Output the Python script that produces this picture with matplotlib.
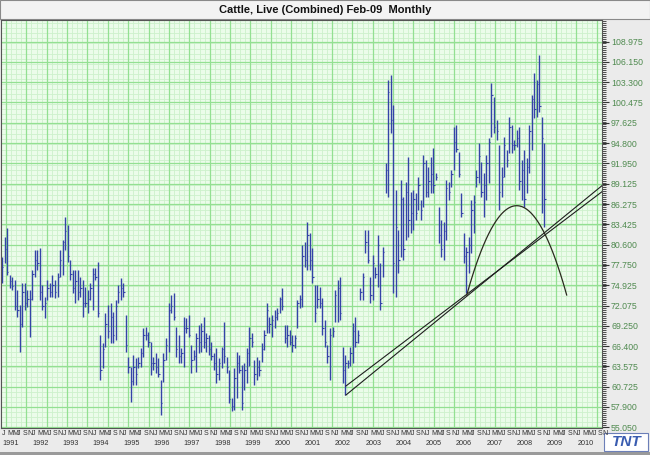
import numpy as np
import matplotlib
matplotlib.use("Agg")
import matplotlib.pyplot as plt
from matplotlib.patches import Rectangle
from matplotlib.transforms import blended_transform_factory

plt.rcParams['font.family'] = ['Liberation Sans', 'DejaVu Sans']

title = "Cattle, Live (Combined) Feb-09  Monthly"
years = list(range(1991, 2011))
month_letters = ["J", "M", "M", "J", "S", "N"]
month_slots = [0, 2, 4, 6, 8, 10]

# monthly bars from Jan 1991 (high, low, close)
highs = [
    78.9, 81.7, 82.9, 76.4, 76.1, 75.7, 74.3, 72.2, 75.2, 75.2, 74.3, 74.3,
    77.1, 79.9, 79.9, 80.1, 75.0, 73.3, 75.7, 75.2, 76.4, 75.7, 76.6, 79.9,
    81.3, 84.5, 83.4, 78.5, 77.1, 77.1, 77.1, 76.1, 75.7, 74.7, 74.3, 75.2,
    77.3, 77.3, 78.2, 68.0, 66.8, 71.0, 72.2, 72.4, 71.2, 72.9, 75.0, 75.9,
    75.2, 70.8, 64.9, 63.5, 65.2, 64.7, 64.9, 66.1, 68.9, 69.1, 68.4, 67.0,
    64.9, 65.4, 64.7, 61.7, 65.4, 67.5, 72.4, 73.6, 73.8, 69.1, 68.0, 66.1,
    70.5, 70.3, 70.8, 66.6, 65.9, 68.2,
    69.4, 69.6, 70.5, 68.2, 68.0, 67.0, 65.4, 66.1, 64.7, 66.3, 69.8, 64.9,
    63.1, 59.1, 63.3, 65.6, 65.2, 63.8, 64.0, 66.1, 69.1, 68.2, 64.5, 64.9,
    64.5, 66.8, 68.7, 72.4, 70.5, 70.8, 71.5, 71.7, 73.3, 74.5, 69.4, 69.4,
    68.7, 68.0, 68.0, 72.9, 73.6, 80.6, 81.0, 83.8, 82.2, 80.1, 75.0, 75.0,
    74.7, 73.1, 70.1, 66.6, 68.9, 69.1, 74.3, 75.7, 76.1, 66.3, 65.2, 64.5,
    66.3, 69.6, 70.5, 68.7, 74.5, 76.6, 82.7, 82.7, 76.1, 79.2, 77.5, 82.0,
    78.0, 80.3,
    92.0, 103.6, 104.3, 100.1, 88.2, 82.6, 89.6, 87.3, 89.4, 92.9, 88.0, 88.2,
    87.8, 90.1, 86.8, 93.1, 92.4, 91.5, 92.9, 94.1, 90.6, 85.9, 84.0, 83.8,
    89.6, 89.4, 91.0, 97.1, 97.3, 93.6, 87.8, 82.2, 80.3, 81.7, 86.8, 87.5,
    91.0, 94.8, 92.2, 90.6, 93.1, 95.5, 103.2, 101.3, 98.0, 94.5, 91.5, 95.7,
    93.8, 98.5, 97.3, 95.2, 96.6, 97.1, 92.4, 93.8, 92.7, 97.3, 101.5, 104.6,
    103.6, 107.1, 98.5, 94.8,
]
lows = [
    75.2, 78.0, 76.4, 74.5, 74.3, 71.5, 70.5, 65.6, 69.1, 71.5, 71.9, 67.7,
    72.9, 76.1, 77.1, 72.9, 71.5, 70.3, 72.9, 73.3, 73.3, 73.1, 73.3, 76.1,
    76.4, 79.9, 78.2, 75.7, 73.8, 72.4, 72.9, 73.3, 70.5, 71.9, 71.0, 72.9,
    71.5, 75.7, 70.5, 61.7, 63.3, 66.3, 67.5, 66.8, 66.8, 67.3, 72.4, 72.9,
    73.3, 65.6, 62.6, 58.6, 61.0, 61.0, 63.3, 63.5, 64.9, 67.3, 66.3, 62.4,
    63.1, 62.6, 62.1, 56.8, 61.4, 64.5, 65.6, 71.0, 70.1, 64.9, 64.0, 64.0,
    63.5, 68.2, 67.7, 62.6, 64.5, 62.8,
    65.4, 65.6, 66.1, 65.6, 65.2, 64.5, 63.1, 61.2, 61.7, 63.3, 64.0, 62.6,
    58.4, 57.3, 57.5, 59.1, 62.6, 57.5, 60.3, 61.2, 63.6, 66.3, 61.0, 61.7,
    62.2, 64.2, 65.9, 68.2, 68.2, 67.7, 68.9, 70.1, 71.0, 71.5, 66.8, 66.3,
    66.6, 65.6, 66.1, 68.9, 71.7, 71.9, 77.5, 77.1, 77.1, 75.2, 69.8, 71.7,
    71.7, 68.0, 66.3, 64.0, 61.7, 67.7, 69.8, 69.8, 70.1, 61.2, 59.6, 63.3,
    63.6, 64.0, 66.3, 66.8, 72.9, 72.9, 79.4, 78.0, 72.4, 72.9, 75.9, 74.7,
    71.5, 76.1,
    87.8, 87.3, 96.2, 73.8, 73.3, 76.6, 78.9, 78.4, 81.2, 81.7, 82.2, 82.6,
    84.0, 85.4, 84.0, 85.9, 87.3, 87.3, 87.8, 87.8, 89.6, 80.8, 78.9, 78.4,
    81.2, 86.8, 88.7, 91.0, 93.6, 90.1, 84.5, 78.0, 73.8, 76.6, 79.4, 82.2,
    88.7, 89.2, 87.3, 84.5, 86.8, 89.2, 95.7, 96.2, 95.2, 85.4, 87.3, 90.1,
    91.5, 93.4, 93.4, 93.8, 94.3, 88.2, 86.8, 85.9, 87.8, 90.6, 93.8, 98.3,
    98.5, 99.2, 85.0, 83.1,
]
closes = [
    77.5, 80.0, 76.8, 75.5, 74.8, 72.0, 71.5, 69.5, 74.0, 72.5, 73.0, 73.0,
    76.5, 78.5, 78.0, 74.0, 72.0, 72.5, 74.5, 74.0, 75.0, 74.0, 76.0, 78.5,
    81.0, 82.5, 79.0, 76.5, 74.5, 75.5, 74.0, 74.5, 72.5, 72.5, 73.0, 74.5,
    76.5, 76.0, 71.0, 63.0, 66.0, 69.5, 68.5, 70.5, 68.0, 72.0, 74.0, 74.5,
    74.0, 66.5, 63.5, 61.5, 63.5, 62.5, 64.0, 65.5, 68.0, 68.0, 67.0, 64.0,
    64.0, 63.5, 62.5, 58.5, 64.5, 66.5, 71.5, 72.0, 70.5, 66.0, 65.0, 65.5,
    69.0, 69.0, 68.0, 64.5, 65.0, 67.5,
    67.0, 68.5, 67.0, 67.5, 66.0, 65.0, 64.0, 62.5, 64.0, 66.0, 65.0, 63.5,
    59.0, 58.0, 62.0, 64.0, 63.0, 58.5, 63.0, 65.5, 67.5, 67.0, 62.5, 63.5,
    63.0, 66.0, 68.0, 71.5, 69.5, 70.0, 70.5, 71.0, 73.0, 72.0, 67.5, 68.0,
    67.0, 66.5, 67.5, 72.5, 73.0, 79.0, 78.5, 82.0, 78.5, 76.0, 71.0, 73.0,
    72.5, 69.0, 67.0, 65.0, 68.0, 68.5, 73.5, 74.5, 71.0, 63.0, 64.0, 64.0,
    65.5, 68.5, 67.0, 68.0, 74.0, 76.0, 81.0, 78.5, 73.5, 78.0, 76.5, 80.5,
    72.5, 79.5,
    91.0, 102.0, 98.0, 78.0, 83.0, 78.5, 87.0, 80.0, 88.0, 84.0, 85.0, 87.0,
    85.0, 89.0, 85.5, 92.0, 88.0, 89.5, 90.5, 89.0, 90.0, 82.0, 80.0, 82.5,
    88.5, 88.0, 90.5, 95.0, 94.0, 90.5, 85.0, 79.0, 79.5, 80.5, 85.5, 86.5,
    90.0, 93.0, 88.0, 89.0, 92.0, 95.0, 101.5, 97.0, 96.5, 88.0, 90.0, 94.5,
    92.5, 97.0, 94.5, 94.5, 95.5, 89.5, 91.0, 87.0, 91.5, 96.5, 101.0, 99.5,
    103.0, 100.0, 95.5, 87.0,
]

price_ticks = [55.050, 57.900, 60.725, 63.575, 66.400, 69.250, 72.075, 74.925,
               77.750, 80.600, 83.425, 86.275, 89.125, 91.950, 94.800, 97.625,
               100.475, 103.300, 106.150, 108.975]

# trend lines (month index, price) and the arc through three points
trend_a_x, trend_a_y = [136.3, 237.8], [60.82, 88.00]
trend_b_x, trend_b_y = [136.3, 237.8], [59.56, 88.84]
arc_x = [184.2, 204.0, 223.8]
arc_y = [73.55, 86.04, 73.55]

bar_color = "#3443a8"

fig = plt.figure(figsize=(6.5, 4.55), dpi=100, facecolor="#ebebeb")
ax = fig.add_axes([1 / 650, 27 / 455, 601 / 650, 408 / 455])
ax.set_facecolor("#ebfcea")

# grid: vertical lines are evenly spaced, horizontal at price ticks
vstep = 8.074
vmaj = np.arange(1.585, 238, vstep)
vmin = np.arange(1.585 - vstep, 238, vstep / 4)
hmin = np.arange(price_ticks[0] - 2.825, 113, 2.825 / 4)
ax.vlines(vmin, 54, 113, color="#cdf1cc", lw=0.6, zorder=0.5)
ax.hlines(hmin, -1, 239, color="#cdf1cc", lw=0.6, zorder=0.5)
ax.vlines(vmaj, 54, 113, color="#93e092", lw=0.9, zorder=0.6)
ax.hlines(price_ticks, -1, 239, color="#93e092", lw=0.9, zorder=0.6)

months = np.arange(len(highs))
ax.vlines(months, lows, highs, color=bar_color, lw=1.0, zorder=2)
ax.hlines(closes, months, months + 0.55, color=bar_color, lw=0.8, zorder=2)

ax.plot(trend_a_x, trend_a_y, color="#1e1e1e", lw=0.8, zorder=3)
ax.plot(trend_b_x, trend_b_y, color="#1e1e1e", lw=0.8, zorder=3)
coef = np.polyfit(arc_x, arc_y, 2)
xs = np.linspace(arc_x[0], arc_x[-1], 120)
ax.plot(xs, np.polyval(coef, xs), color="#2a2a1e", lw=0.9, zorder=3)

# right-hand price scale
ax.set_xticks([])
ax.yaxis.tick_right()
ax.set_yticks(price_ticks)
ax.set_yticklabels([f"{v:.3f}" for v in price_ticks])
ax.set_yticks(np.arange(price_ticks[0] - 2.825, 113, 0.2825), minor=True)
ax.tick_params(axis="y", which="major", length=5, width=0.8, color="#333333",
               labelsize=6.3, labelcolor="#4f8a4f", pad=1.5)
ax.tick_params(axis="y", which="minor", length=3, width=0.6, color="#333333")
for s in ax.spines.values():
    s.set_color("#555555")
    s.set_linewidth(0.8)
ax.set_xlim(-0.4, 237.8)
ax.set_ylim(54.95, 112.01)

# time labels under the plot
trans = blended_transform_factory(ax.transData, ax.transAxes)
for i, yr in enumerate(years):
    base = 12 * i
    for slot, letter in zip(month_slots, month_letters):
        ax.text(base + slot, -0.004, letter, transform=trans, fontsize=5,
                ha="left", va="top", color="#333333", clip_on=False)
    ax.text(base, -0.030, str(yr), transform=trans, fontsize=5.2,
            ha="left", va="top", color="#333333", clip_on=False)

# title bar
fig.patches.append(Rectangle((0, 1 - 19 / 455), 1, 19 / 455, transform=fig.transFigure,
                             facecolor="#f3f3f3", edgecolor="#8a8a8a", lw=0.8,
                             zorder=-1))
fig.text(325 / 650, 1 - 10 / 455, title, ha="center", va="center",
         fontsize=8, fontweight="bold", color="#111111")

# bottom border and logo
fig.patches.append(Rectangle((0, 0), 1, 3 / 455, transform=fig.transFigure,
                             facecolor="#9a9a9a", edgecolor="none", zorder=-1))
fig.patches.append(Rectangle((604 / 650, 4 / 455), 44 / 650, 18 / 455,
                             transform=fig.transFigure, facecolor="white",
                             edgecolor="#6c7fb8", lw=0.8, zorder=-1))
fig.text(627 / 650, 13 / 455, "TNT", ha="center", va="center", fontsize=11,
         fontweight="bold", fontstyle="italic", color="#3a5db0")

fig.savefig("out.png", dpi=100, facecolor=fig.get_facecolor())
